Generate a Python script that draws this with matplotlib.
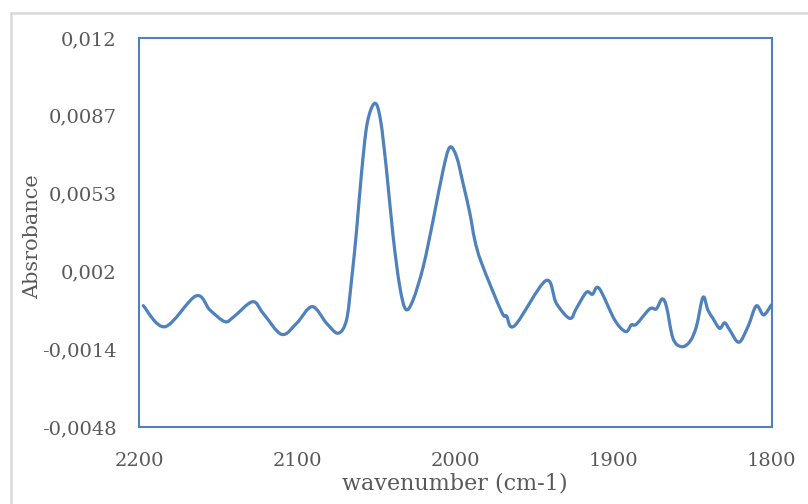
import matplotlib
matplotlib.use("Agg")
import matplotlib.pyplot as plt
import matplotlib.patches as mpatches
from matplotlib.path import Path
import numpy as np

# wavenumber (cm-1) and absorbance
wavenumber = [2197.3, 2183.6, 2164.0, 2155.1, 2145.7, 2140.4, 2128.2, 2121.5, 2109.8, 2100.3,
              2090.5, 2081.4, 2074.1, 2068.8, 2065.6, 2062.4, 2059.3, 2055.7, 2050.9, 2047.3,
              2043.5, 2039.3, 2035.1, 2031.3, 2026.7, 2020.3, 2014.0, 2007.7, 2003.5, 1999.2,
              1995.1, 1990.8, 1987.7, 1983.4, 1970.8, 1967.6, 1962.4, 1942.8, 1936.1, 1927.6,
              1923.4, 1917.1, 1913.3, 1909.1, 1899.2, 1892.3, 1888.7, 1885.5, 1877.1, 1872.9,
              1869.3, 1866.5, 1862.4, 1857.1, 1851.8, 1847.6, 1843.4, 1840.3, 1837.1, 1832.9,
              1829.7, 1826.5, 1820.7, 1815.0, 1809.7, 1805.1, 1800.2]
absorbance = [0.00044, -0.00047, 0.00086, 0.00025, -0.00025, -0.00006, 0.00061, 0.00011, -0.00080, -0.00032,
              0.00040, -0.00032, -0.00075, -0.00018, 0.00155, 0.00371, 0.00616, 0.00832, 0.00918, 0.00846,
              0.00630, 0.00342, 0.00126, 0.00028, 0.00069, 0.00212, 0.00414, 0.00630, 0.00728, 0.00687,
              0.00572, 0.00443, 0.00328, 0.00228, 0.00018, -0.00001, -0.00042, 0.00152, 0.00054, -0.00011,
              0.00033, 0.00102, 0.00093, 0.00119, -0.00018, -0.00068, -0.00039, -0.00036, 0.00030, 0.00030,
              0.00073, 0.00040, -0.00097, -0.00133, -0.00112, -0.00047, 0.00080, 0.00025, -0.00011, -0.00054,
              -0.00030, -0.00061, -0.00114, -0.00047, 0.00043, 0.00004, 0.00047]

y_ticks = [-0.0048, -0.00144, 0.00192, 0.00528, 0.00864, 0.012]
y_tick_labels = ["-0,0048", "-0,0014", "0,002", "0,0053", "0,0087", "0,012"]
x_ticks = [2200, 2100, 2000, 1900, 1800]

blue = "#4F81BD"
grey = "#595959"
plt.rcParams['font.family'] = ['DejaVu Serif']


def smooth_path(xs, ys):
    # Excel-like smoothed line: Catmull-Rom segments as cubic Beziers
    p = np.column_stack([xs, ys])
    n = len(p)
    verts = [p[0]]
    codes = [Path.MOVETO]
    for i in range(n - 1):
        p0 = p[i - 1] if i > 0 else p[i]
        p1 = p[i]
        p2 = p[i + 1]
        p3 = p[i + 2] if i + 2 < n else p[i + 1]
        verts += [p1 + (p2 - p0) / 6, p2 - (p3 - p1) / 6, p2]
        codes += [Path.CURVE4] * 3
    return Path(verts, codes)


fig = plt.figure(figsize=(8.08, 5.04), dpi=100)
ax = fig.add_axes([0.172, 0.1528, 0.783, 0.7718])

# outer chart frame
frame = mpatches.Rectangle((0.0136, -0.2), 2, 0.974 + 0.2, transform=fig.transFigure,
                           fill=False, edgecolor="#D9D9D9", linewidth=1.8)
fig.patches.append(frame)

line = mpatches.PathPatch(smooth_path(wavenumber, absorbance), facecolor='none',
                          edgecolor=blue, linewidth=2.3, joinstyle='round', capstyle='round')
ax.add_patch(line)

ax.set_xlim(2200, 1800)
ax.set_ylim(-0.0048, 0.012)
ax.set_xticks(x_ticks)
ax.set_xticklabels([str(v) for v in x_ticks])
ax.set_yticks(y_ticks)
ax.set_yticklabels(y_tick_labels)
ax.tick_params(axis='both', length=0, labelsize=14, labelcolor=grey)
ax.tick_params(axis='y', pad=16)
ax.tick_params(axis='x', pad=18)

for s in ax.spines.values():
    s.set_color(blue)
    s.set_linewidth(1.5)

ax.set_ylabel("Absrobance", fontsize=15, color=grey)
ax.set_xlabel("wavenumber (cm-1)", fontsize=16, color=grey)
ax.yaxis.set_label_coords(-0.153, 0.49)
ax.xaxis.set_label_coords(0.5, -0.116)

fig.savefig("out.png", dpi=100)
